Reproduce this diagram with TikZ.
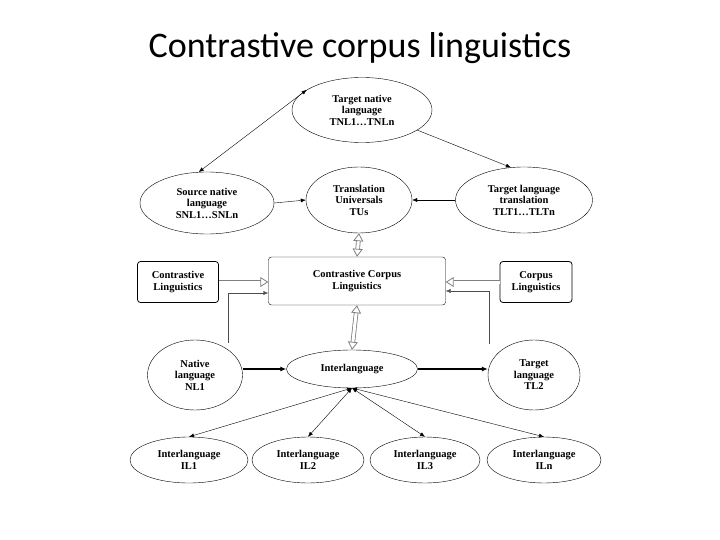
\documentclass[tikz,border=0pt]{standalone}
\usepackage{fontspec}
\setmainfont{Liberation Serif}
\newfontfamily\titlefont{Carlito}
\usetikzlibrary{shapes.geometric,arrows.meta}
\begin{document}
\begin{tikzpicture}[x=1pt,y=-1pt,
  ell/.style={draw,ellipse,inner sep=0pt,align=center,font=\bfseries\fontsize{10.5}{11.5}\selectfont},
  box/.style={draw,rounded corners=3pt,align=center,font=\bfseries\fontsize{10.5}{12}\selectfont},
  arr/.style={-{Latex[length=5pt,width=4pt]},thin},
  barr/.style={{Latex[length=5pt,width=4pt]}-{Latex[length=5pt,width=4pt]},thin},
  thk/.style={-{Latex[length=6pt,width=5pt]},line width=1.2pt},
  dbl/.style={draw=gray,double=white,double distance=3pt,line width=0.8pt,-{Triangle[open,length=8pt,width=10pt]}},
  dbl2/.style={draw=gray,double=white,double distance=3pt,line width=0.8pt,{Triangle[open,length=8pt,width=10pt]}-{Triangle[open,length=8pt,width=10pt]}}]
\useasboundingbox (0,0) rectangle (720,540);
\node[font=\titlefont\fontsize{36}{40}\selectfont] (title) at (360,48) {Contrastive corpus linguistics};
\node[ell,minimum width=140,minimum height=65] (tnl) at (362,110) {Target native\\language\\TNL1\ldots TNLn};
\node[ell,minimum width=134,minimum height=62] (snl) at (207,203) {Source native\\language\\SNL1\ldots SNLn};
\node[ell,minimum width=106,minimum height=66] (tu) at (359,200) {Translation\\Universals\\TUs};
\node[ell,minimum width=137,minimum height=66] (tlt) at (524,200) {Target language\\translation\\TLT1\ldots TLTn};
\node[box,minimum width=177,minimum height=48] (ccl) at (357,281) {Contrastive Corpus\\Linguistics};
\node[box,minimum width=81,minimum height=41,line width=0.8pt] (cl) at (178,282) {Contrastive\\Linguistics};
\node[box,minimum width=72,minimum height=41,line width=0.8pt] (cpl) at (536,282) {Corpus\\Linguistics};
\node[ell,minimum width=95,minimum height=70] (nl) at (195,375) {Native\\language\\NL1};
\node[ell,minimum width=131,minimum height=38] (il) at (352,369) {Interlanguage};
\node[ell,minimum width=92,minimum height=70] (tl) at (534,375) {Target\\language\\TL2};
\node[ell,minimum width=118,minimum height=46] (il1) at (189,460) {Interlanguage\\IL1};
\node[ell,minimum width=112,minimum height=46] (il2) at (308,460) {Interlanguage\\IL2};
\node[ell,minimum width=110,minimum height=46] (il3) at (425,460) {Interlanguage\\IL3};
\node[ell,minimum width=114,minimum height=46] (iln) at (544,460) {Interlanguage\\ILn};
\draw[barr] (tnl.160) -- (snl.105);
\draw[arr] (tnl.-20) -- (tlt.112);
\draw[arr] (snl.east) -- (tu.west);
\draw[arr] (tlt.west) -- (tu.east);
\draw[dbl2] (tu.south) -- (ccl.north);
\draw[dbl] (cl.east) -- (ccl.west |- cl.east);
\draw[dbl] (cpl.west) -- (ccl.east |- cpl.west);
\coordinate (lc) at (228,343);
\coordinate (rc) at (489,344);
\draw[arr,gray!60!black] (lc) |- (ccl.west |- 0,293);
\draw[arr,gray!60!black] (rc) |- (ccl.east |- 0,291);
\draw[dbl2] (ccl.south) -- (il.north);
\draw[thk] (nl.east |- il.west) -- (il.west);
\draw[thk] (il.east) -- (tl.west |- il.east);
\coordinate (ib) at (352,388);
\draw[barr] (ib) -- (il1.north);
\draw[barr] (ib) -- (il2.north);
\draw[barr] (ib) -- (il3.north);
\draw[barr] (ib) -- (iln.north);
\end{tikzpicture}
\end{document}
